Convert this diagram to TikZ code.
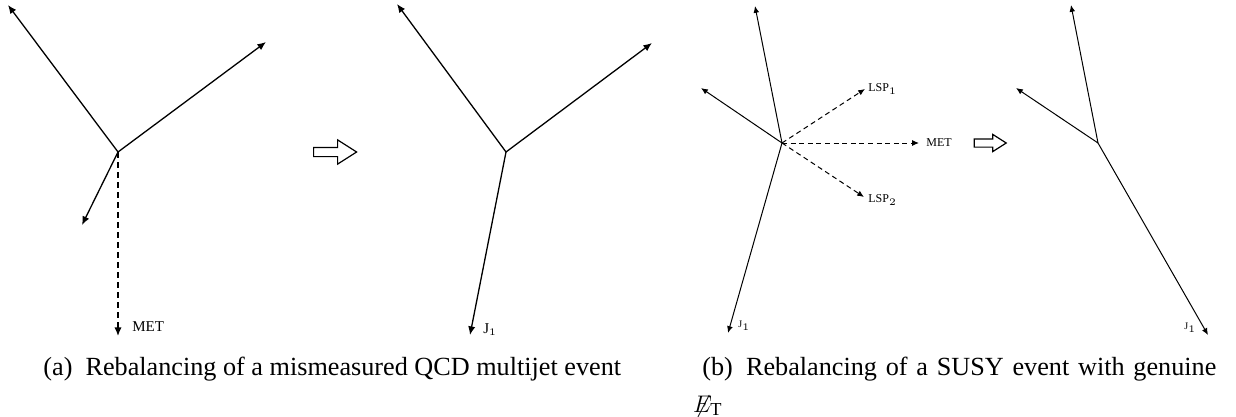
\documentclass[tikz,border=0pt]{standalone}
\usepackage{fontspec}
\setmainfont{Liberation Serif}
\usetikzlibrary{arrows.meta,shapes.arrows}

\tikzset{
  jet/.style={-{Latex[length=4.3pt,width=3.6pt]}, line width=0.65pt},
  met/.style={jet, dash pattern=on 3pt off 2pt},
  jetb/.style={-{Latex[length=3.4pt,width=2.9pt]}, line width=0.5pt},
  metb/.style={jetb, dash pattern=on 2.5pt off 1.8pt},
  lbl/.style={inner sep=0pt, anchor=west, font=\fontsize{7.5}{9}\selectfont},
  lblb/.style={lbl, font=\fontsize{6}{7}\selectfont},
  rebal/.style={single arrow, draw, line width=0.6pt, inner xsep=0pt,
    single arrow tip angle=65},
  capt/.style={inner sep=0pt, anchor=base west, font=\fontsize{13.1}{15}\selectfont}
}

\begin{document}
\begin{tikzpicture}[x=0.5pt, y=-0.5pt]
\useasboundingbox (0,0) rectangle (1236,417);

%% (a) QCD multijet, before
\coordinate (va) at (118,152);
\coordinate (a1) at (8,5);
\coordinate (a2) at (266,42);
\coordinate (a3) at (82,225);
\coordinate (aMET) at (118,336);
\draw[jet] (va) -- (a1);
\draw[jet] (va) -- (a2);
\draw[jet] (va) -- (a3);
\draw[met] (va) -- (aMET);
\node[lbl] (metA) at (132,327) {MET};

\node[rebal, inner ysep=2pt, single arrow head extend=3.75pt,
  minimum height=21.5pt] (rebA) at (331.5,152) {};

%% (a) after rebalancing
\coordinate (vr) at (506,152);
\coordinate (r1) at (397,4);
\coordinate (r2) at (652,43);
\coordinate (rJ) at (470,335);
\draw[jet] (vr) -- (r1);
\draw[jet] (vr) -- (r2);
\draw[jet] (vr) -- (rJ);
\node[lbl] (jA) at (483,330) {J$_1$};

%% (b) SUSY event, before
\coordinate (vb) at (782,143);
\coordinate (b1) at (755,6);
\coordinate (b2) at (701,88);
\coordinate (bJ) at (728,333);
\coordinate (bL1) at (865,89);
\coordinate (bMET) at (919,143);
\coordinate (bL2) at (864,197);
\draw[jetb] (vb) -- (b1);
\draw[jetb] (vb) -- (b2);
\draw[jetb] (vb) -- (bJ);
\draw[metb] (vb) -- (bL1);
\draw[metb] (vb) -- (bMET);
\draw[metb] (vb) -- (bL2);
\node[lblb] (lsp1) at (868,89) {LSP$_1$};
\node[lblb] (metB) at (926,143) {MET};
\node[lblb] (lsp2) at (868,200) {LSP$_2$};
\node[lblb, font=\fontsize{5}{6}\selectfont] (jB) at (738,326) {J$_1$};

\node[rebal, inner ysep=1.75pt, single arrow head extend=2.25pt,
  minimum height=16pt] (rebB) at (987,143) {};

%% (b) after rebalancing
\coordinate (vs) at (1098,143);
\coordinate (s1) at (1071,5);
\coordinate (s2) at (1016,88);
\coordinate (sJ) at (1208,335);
\draw[jetb] (vs) -- (s1);
\draw[jetb] (vs) -- (s2);
\draw[jetb] (vs) -- (sJ);
\node[lblb, font=\fontsize{5}{6}\selectfont] (jS) at (1184,328) {J$_1$};

%% captions
\node[capt] (capA) at (43,375) {(a)\enspace Rebalancing of a mismeasured QCD multijet event};
\node[capt] (capB) at (702,375) {\makebox[257pt][s]{(b)\enspace Rebalancing of a SUSY event with genuine}};
\node[capt] (capB2) at (694,412) {$\not\!\!E_{\mathrm{T}}$};
\end{tikzpicture}
\end{document}
